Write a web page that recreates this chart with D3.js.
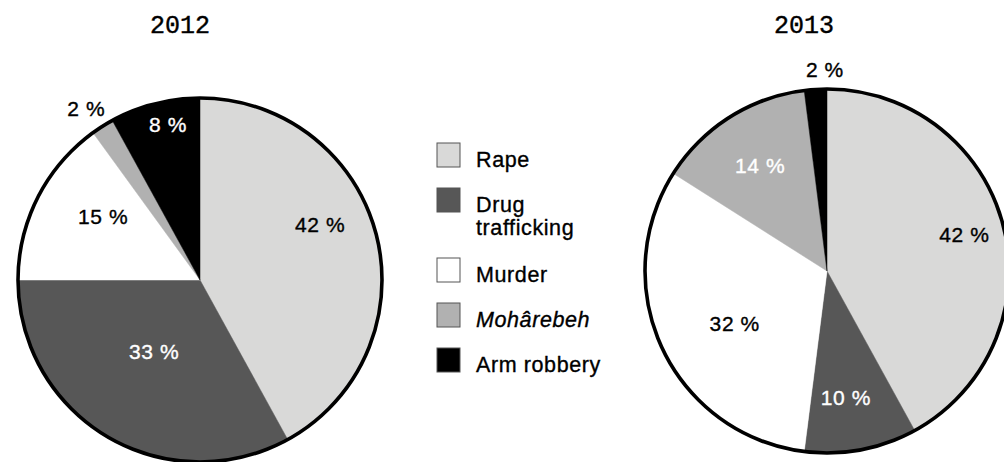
<!DOCTYPE html>
<html>
<head>
<meta charset="utf-8">
<script src="https://cdn.jsdelivr.net/npm/d3@7"></script>
<style>
  html, body { margin: 0; padding: 0; background: #fff; }
  svg { display: block; }
</style>
</head>
<body>
<svg id="chart" width="1004" height="462"></svg>
<script>
// ---- data ----
const categories = ["Rape", "Drug trafficking", "Murder", "Mohârebeh", "Arm robbery"];
const years = ["2012", "2013"];
const values2012 = [42, 33, 15, 2, 8];
const values2013 = [42, 10, 32, 14, 2];
const valueLabels2012 = ["42 %", "33 %", "15 %", "2 %", "8 %"];
const valueLabels2013 = ["42 %", "10 %", "32 %", "14 %", "2 %"];

// ---- styles / layout ----
const colors = ["#d9d9d8", "#575757", "#ffffff", "#b1b1b1", "#000000"];
const labelColors2012 = ["#000", "#fff", "#000", "#000", "#fff"];
const labelColors2013 = ["#000", "#fff", "#000", "#fff", "#000"];
// label placement: [radius, angle in degrees clockwise from top]
const labelPolar2012 = [[132, 65.4], [85, 212.6], [116, 303.4], [206, 326.5], [159, 348.4]];
const labelPolar2013 = [[142, 75.3], [128, 171.5], [106, 240.5], [125, 327.7], [201, 359.4]];

const pies = [
  { year: years[0], values: values2012, labels: valueLabels2012, lc: labelColors2012, lp: labelPolar2012, cx: 200, cy: 280, titleX: 180 },
  { year: years[1], values: values2013, labels: valueLabels2013, lc: labelColors2013, lp: labelPolar2013, cx: 827, cy: 271, titleX: 804 }
];
const radius = 182;
const sansFont = "'Liberation Sans', Helvetica, Arial, sans-serif";

const svg = d3.select("#chart");
const color = d3.scaleOrdinal().domain(categories).range(colors);
const pieGen = d3.pie().sort(null).value(d => d);
const arcGen = d3.arc().innerRadius(0).outerRadius(radius);

pies.forEach(p => {
  const g = svg.append("g").attr("transform", `translate(${p.cx},${p.cy})`);
  const arcs = pieGen(p.values);
  g.selectAll("path.slice").data(arcs).enter().append("path")
    .attr("class", "slice")
    .attr("d", arcGen)
    .attr("fill", (d, i) => color(categories[i]))
    .attr("stroke", (d, i) => color(categories[i]))
    .attr("stroke-width", 0.5);
  g.append("circle").attr("r", radius).attr("fill", "none")
    .attr("stroke", "#000").attr("stroke-width", 3.6);

  g.selectAll("text.val").data(arcs).enter().append("text")
    .attr("class", "val")
    .attr("transform", (d, i) => {
      const [r, deg] = p.lp[i];
      const a = deg * Math.PI / 180;
      const c = d3.arc().innerRadius(r).outerRadius(r).startAngle(a).endAngle(a).centroid();
      return `translate(${c[0]},${c[1]})`;
    })
    .attr("text-anchor", "middle")
    .attr("dy", "0.35em")
    .attr("font-family", sansFont)
    .attr("font-size", 21)
    .attr("letter-spacing", 0.6)
    .attr("fill", (d, i) => p.lc[i])
    .attr("stroke", (d, i) => p.lc[i])
    .attr("stroke-width", 0.35)
    .text((d, i) => p.labels[i]);

  svg.append("text")
    .attr("x", p.titleX).attr("y", 33)
    .attr("text-anchor", "middle")
    .attr("font-family", "'Liberation Mono', 'Courier New', monospace")
    .attr("font-size", 25)
    .attr("fill", "#000")
    .attr("stroke", "#000")
    .attr("stroke-width", 0.4)
    .text(p.year);
});

// ---- legend ----
const legendLines = [["Rape"], ["Drug", "trafficking"], ["Murder"], ["Mohârebeh"], ["Arm robbery"]];
const legend = svg.append("g").attr("transform", "translate(437,143)");
let yOff = 0;
legendLines.forEach((lines, i) => {
  const item = legend.append("g").attr("transform", `translate(0,${yOff})`);
  item.append("rect").attr("x", 0).attr("y", 0).attr("width", 23).attr("height", 24)
    .attr("fill", color(categories[i])).attr("stroke", "#555").attr("stroke-width", 1);
  const t = item.append("text")
    .attr("x", 39).attr("y", 24)
    .attr("font-family", sansFont)
    .attr("font-size", 21.5)
    .attr("letter-spacing", 0.6)
    .attr("font-style", categories[i] === "Mohârebeh" ? "italic" : "normal")
    .attr("fill", "#000")
    .attr("stroke", "#000")
    .attr("stroke-width", 0.35);
  lines.forEach((ln, j) => {
    t.append("tspan").attr("x", 39).attr("dy", j === 0 ? 0 : 23).text(ln);
  });
  yOff += 45 + (lines.length - 1) * 25;
});
</script>
</body>
</html>
